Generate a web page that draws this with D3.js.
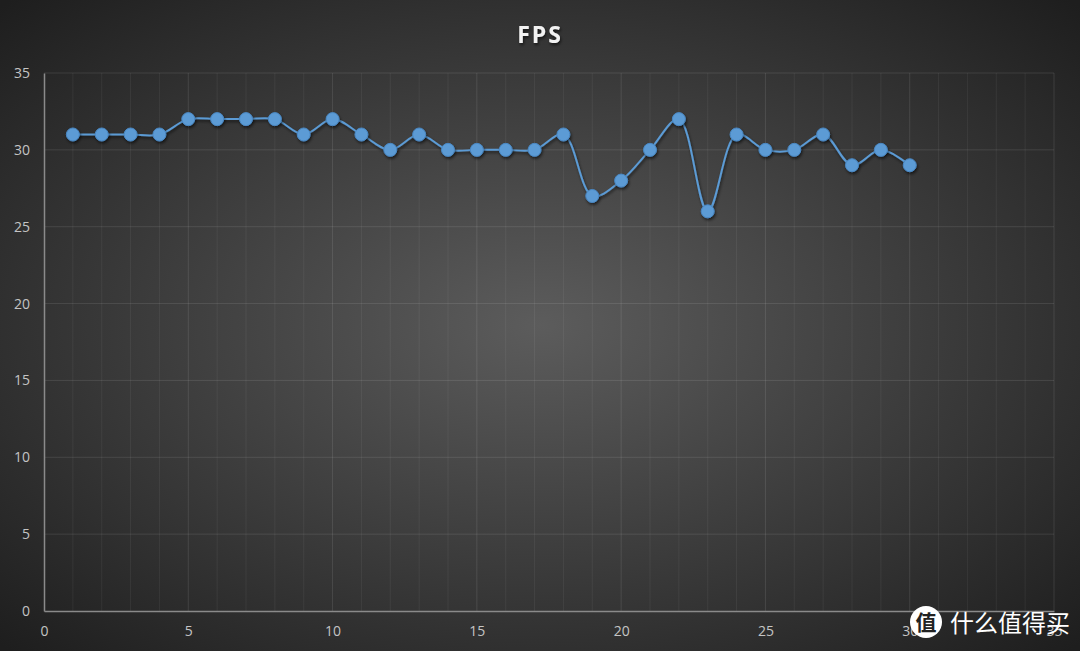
<!DOCTYPE html>
<html><head><meta charset="utf-8">
<script src="https://cdn.jsdelivr.net/npm/d3@7"></script>
<style>html,body{margin:0;padding:0;background:#2a2a2a;}svg{display:block;}</style>
</head><body>
<script>
const xValues = [1,2,3,4,5,6,7,8,9,10,11,12,13,14,15,16,17,18,19,20,21,22,23,24,25,26,27,28,29,30];
const fpsValues = [31,31,31,31,32,32,32,32,31,32,31,30,31,30,30,30,30,31,27,28,30,32,26,31,30,30,31,29,30,29];
const xTicks = [0,5,10,15,20,25,30,35];
const yTicks = [0,5,10,15,20,25,30,35];
const title = "FPS";

const W = 1080, H = 651;
const svg = d3.select("body").append("svg").attr("width", W).attr("height", H);
const defs = svg.append("defs");
const rg = defs.append("radialGradient").attr("id","bg").attr("cx","50%").attr("cy","50%").attr("r","70%");
rg.append("stop").attr("offset","0%").attr("stop-color","#5c5c5c");
rg.append("stop").attr("offset","100%").attr("stop-color","#1e1e1e");
const sh = defs.append("filter").attr("id","sh").attr("x","-50%").attr("y","-50%").attr("width","200%").attr("height","200%");
sh.append("feDropShadow").attr("dx",1).attr("dy",2).attr("stdDeviation",1.5).attr("flood-color","#000").attr("flood-opacity",0.6);

svg.append("rect").attr("width",W).attr("height",H).attr("fill","url(#bg)");

const x = d3.scaleLinear().domain([0,35]).range([44,1054]);
const y = d3.scaleLinear().domain([0,35]).range([611,73]);

// minor vertical grid
svg.append("g").selectAll("line").data(d3.range(1,36).filter(d=>d%5!==0)).join("line")
  .attr("x1",d=>x(d)).attr("x2",d=>x(d)).attr("y1",y(35)).attr("y2",y(0))
  .attr("stroke","#ffffff").attr("stroke-opacity",0.06).attr("stroke-width",1);
// major vertical grid
svg.append("g").selectAll("line").data(xTicks.filter(d=>d>0)).join("line")
  .attr("x1",d=>x(d)).attr("x2",d=>x(d)).attr("y1",y(35)).attr("y2",y(0))
  .attr("stroke","#ffffff").attr("stroke-opacity",0.1).attr("stroke-width",1);
// horizontal grid
svg.append("g").selectAll("line").data(yTicks.filter(d=>d>0)).join("line")
  .attr("x1",x(0)).attr("x2",x(35)).attr("y1",d=>y(d)).attr("y2",d=>y(d))
  .attr("stroke","#ffffff").attr("stroke-opacity",0.1).attr("stroke-width",1);

// axes
const xAxis = svg.append("g").attr("transform",`translate(0,${y(0)})`)
  .call(d3.axisBottom(x).tickValues(xTicks).tickSize(0).tickPadding(15));
const yAxis = svg.append("g").attr("transform",`translate(${x(0)},0)`)
  .call(d3.axisLeft(y).tickValues(yTicks).tickSize(0).tickPadding(14));
[xAxis,yAxis].forEach(a=>{
  a.select(".domain").attr("stroke","#8a8a8a").attr("stroke-width",1.5);
  a.selectAll("text").attr("fill","#c4c4c4").attr("font-family","'Open Sans', 'DejaVu Sans', sans-serif").attr("font-size",14);
});

// title
svg.append("text").attr("x",540).attr("y",43).attr("text-anchor","middle")
  .attr("fill","#f2f2f2").attr("font-family","'Open Sans', 'DejaVu Sans', sans-serif")
  .attr("font-weight","bold").attr("font-size",23).attr("letter-spacing",2)
  .attr("filter","url(#sh)").text(title);

const data = xValues.map((d,i)=>({x:d,y:fpsValues[i]}));
const line = d3.line().x(d=>x(d.x)).y(d=>y(d.y)).curve(d3.curveCatmullRom.alpha(0.5));
svg.append("path").datum(data).attr("d",line).attr("fill","none")
  .attr("stroke","#5b9bd5").attr("stroke-width",2).attr("filter","url(#sh)");
svg.append("g").selectAll("circle").data(data).join("circle")
  .attr("cx",d=>x(d.x)).attr("cy",d=>y(d.y)).attr("r",6.5)
  .attr("fill","#5b9bd5").attr("stroke","#4a88c4").attr("stroke-width",1)
  .attr("filter","url(#sh)");

// watermark
const wm = svg.append("g");
wm.append("circle").attr("cx",926).attr("cy",622).attr("r",16).attr("fill","#ffffff");
wm.append("text").attr("x",926).attr("y",630).attr("text-anchor","middle").attr("fill","#222")
  .attr("font-family","'Noto Sans CJK SC'").attr("font-weight","bold").attr("font-size",21).text("值");
wm.append("text").attr("x",950).attr("y",632).attr("fill","#ffffff")
  .attr("font-family","'Noto Sans CJK SC'").attr("font-size",24).text("什么值得买");
</script>
</body></html>
